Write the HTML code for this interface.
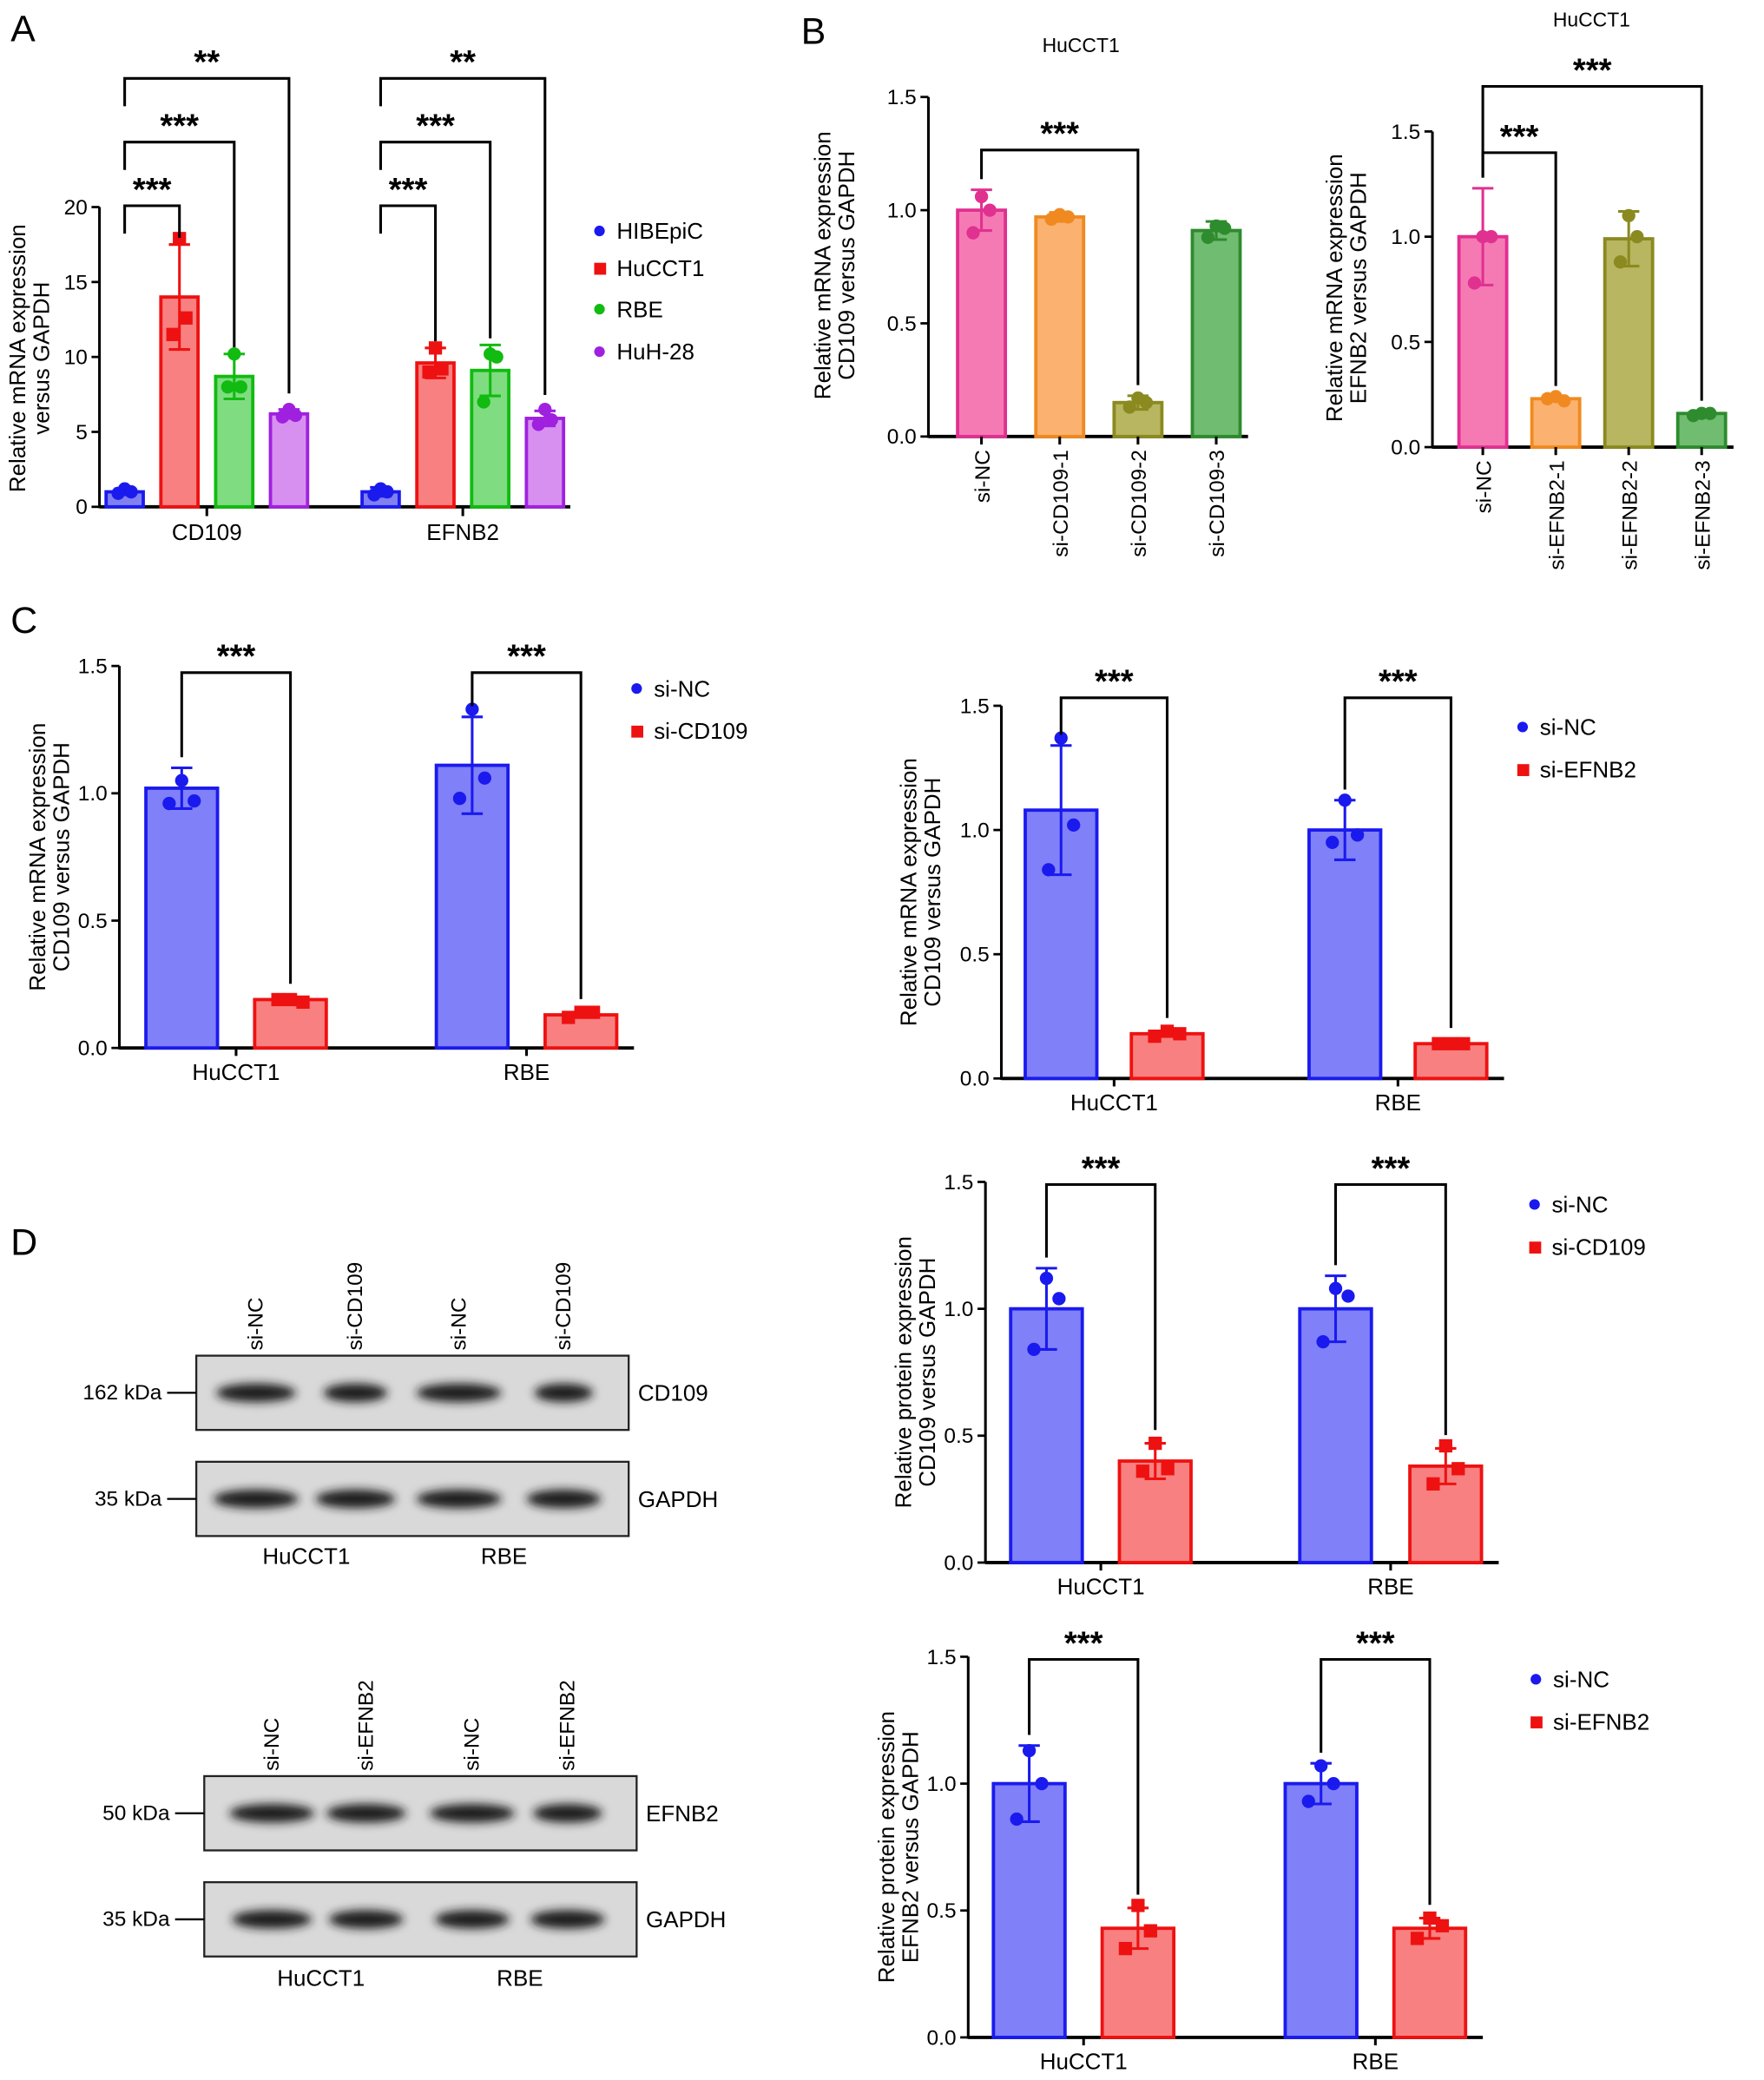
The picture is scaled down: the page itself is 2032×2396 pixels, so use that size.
<!DOCTYPE html>
<html><head><meta charset="utf-8"><style>
html,body{margin:0;padding:0;background:#fff}
svg{display:block;font-family:"Liberation Sans",Arial,sans-serif}
</style></head><body>
<svg id="fig" width="2032" height="2396" viewBox="0 0 1330 1568" xmlns="http://www.w3.org/2000/svg">
<defs><filter id="blur" x="-30%" y="-80%" width="160%" height="260%"><feGaussianBlur stdDeviation="3.5"/></filter></defs>
<g id="root"></g>
</svg>
<script>
// ---- Panel A data ----
const aCats = ["CD109","EFNB2"];
const aSeries = ["HIBEpiC","HuCCT1","RBE","HuH-28"];
const aMeans = [[1.0,14.0,8.7,6.2],[1.0,9.6,9.1,5.9]];
const aSD = [[0.2,3.5,1.5,0.3],[0.3,1.0,1.7,0.5]];
const aReps = [[[1.2,0.9,1.0],[17.9,11.5,12.6],[10.2,8.0,8.0],[6.5,6.0,6.1]],[[1.2,0.8,1.0],[10.6,9.0,9.2],[10.2,7.0,10.0],[6.5,5.5,5.8]]];
const aTicks = [0,5,10,15,20];
// ---- Panel B data ----
const bLeftCats = ["si-NC","si-CD109-1","si-CD109-2","si-CD109-3"];
const bLeftMeans = [1.0,0.97,0.15,0.91];
const bLeftSD = [0.09,0.02,0.03,0.04];
const bLeftReps = [[1.06,0.9,1.0],[0.98,0.96,0.97],[0.17,0.13,0.15],[0.93,0.88,0.92]];
const bRightCats = ["si-NC","si-EFNB2-1","si-EFNB2-2","si-EFNB2-3"];
const bRightMeans = [1.0,0.23,0.99,0.16];
const bRightSD = [0.23,0.01,0.13,0.01];
const bRightReps = [[1.0,0.78,1.0],[0.24,0.23,0.22],[1.1,0.88,1.0],[0.16,0.15,0.16]];
const bTicks = [0,0.5,1.0,1.5];
// ---- Panel C/D data ----
const groups = ["HuCCT1","RBE"];
const cLeftMeans = [[1.02,0.19],[1.11,0.13]];
const cLeftSD = [[0.08,0.01],[0.19,0.01]];
const cLeftReps = [[[1.05,0.96,0.97],[0.19,0.19,0.18]],[[1.33,0.98,1.06],[0.14,0.12,0.14]]];
const cRightMeans = [[1.08,0.18],[1.0,0.14]];
const cRightSD = [[0.26,0.01],[0.12,0.01]];
const cRightReps = [[[1.37,0.84,1.02],[0.19,0.17,0.18]],[[1.12,0.95,0.98],[0.14,0.14,0.14]]];
const dTopMeans = [[1.0,0.4],[1.0,0.38]];
const dTopSD = [[0.16,0.07],[0.13,0.07]];
const dTopReps = [[[1.12,0.84,1.04],[0.47,0.36,0.37]],[[1.08,0.87,1.05],[0.46,0.31,0.37]]];
const dBotMeans = [[1.0,0.43],[1.0,0.43]];
const dBotSD = [[0.15,0.08],[0.08,0.04]];
const dBotReps = [[[1.13,0.86,1.0],[0.52,0.35,0.42]],[[1.07,0.93,1.0],[0.47,0.39,0.44]]];
const twoTicks = [0,0.5,1.0,1.5];

const NS="http://www.w3.org/2000/svg";
const root=document.getElementById("root");
function el(tag,attrs,parent,text){const e=document.createElementNS(NS,tag);for(const k in attrs)e.setAttribute(k,attrs[k]);if(text!==undefined)e.textContent=text;(parent||root).appendChild(e);return e;}
function grp(name){const g=el("g",{},root);return g;}

function axis(g,x0,y0,yTop,x1,ymax,ticks,fmt){
  const ys=v=>y0-(v/ymax)*(y0-yTop);
  const ya=el("line",{x1:x0,y1:y0+1,x2:x0,y2:yTop,stroke:"#000","stroke-width":2},g);
  
  const xa=el("line",{x1:x0,y1:y0,x2:x1,y2:y0,stroke:"#000","stroke-width":2.5},g);
  
  ticks.forEach(t=>{const y=ys(t);
    el("line",{x1:x0-6,y1:y,x2:x0,y2:y,stroke:"#000","stroke-width":1.8},g);
    const tl=el("text",{x:x0-9,y:y+5.5,"font-size":16,"text-anchor":"end"},g,fmt(t));
    });
  return ys;
}
function bar(g,cx,w,mean,sd,reps,ys,fill,stroke,shape,name){
  const y0=ys(0),y=ys(mean);
  const r=el("rect",{x:cx-w/2,y:y,width:w,height:y0-y,fill:fill,stroke:stroke,"stroke-width":2.5},g);
  
  const ya=ys(mean+sd),yb=ys(Math.max(0,mean-sd));
  el("line",{x1:cx,y1:ya,x2:cx,y2:yb,stroke:stroke,"stroke-width":2},g);
  el("line",{x1:cx-8,y1:ya,x2:cx+8,y2:ya,stroke:stroke,"stroke-width":2},g);
  el("line",{x1:cx-8,y1:yb,x2:cx+8,y2:yb,stroke:stroke,"stroke-width":2},g);
  const off=[0,-7,7];
  reps.forEach((v,i)=>{const px=cx+off[i]*(w/40),py=ys(v);
    if(shape==="sq") el("rect",{x:px-5,y:py-5,width:10,height:10,fill:stroke},g);
    else el("circle",{cx:px,cy:py,r:5,fill:stroke},g);});
}
function bracket(g,xa,xb,ytop,ya,yb,label){
  el("polyline",{points:`${xa},${ya} ${xa},${ytop} ${xb},${ytop} ${xb},${yb}`,fill:"none",stroke:"#000","stroke-width":2},g);
  const t=el("text",{x:(xa+xb)/2,y:ytop-4,"font-size":25,"font-weight":"bold","text-anchor":"middle"},g,label);
  
}
function ytitle(g,x,cy,l1,l2){
  const t=el("text",{transform:`translate(${x},${cy}) rotate(-90)`,"font-size":17,"text-anchor":"middle"},g);
  
  el("tspan",{x:0,dy:0},t,l1);el("tspan",{x:0,dy:18},t,l2);
}
function legendEntry(g,x,y,label,col,shape){
  const e=el("g",{},g);
  if(shape==="sq") el("rect",{x:x-4,y:y-4,width:9,height:9,fill:col},e); else el("circle",{cx:x,cy:y,r:4,fill:col},e);
  el("text",{x:x+13,y:y+6,"font-size":17},e,label);
}
function letter(x,y,L){const t=el("text",{x:x,y:y,"font-size":28},root,L);}
const f1=t=>t.toFixed(1);

// ---- Panel A ----
letter(8,31,"A");
{const g=grp("panel-a-chart");
 const ys=axis(g,75,382,156,430,20,aTicks,t=>String(t));
 const fills=["#8080f0","#f88080","#80dc80","#d890f0"],strokes=["#1a1aee","#ee1111","#11bb11","#a020e0"],shapes=["c","sq","c","c"];
 const starts=[94,287],step=41.3;
 aCats.forEach((c,ci)=>{
  aSeries.forEach((s,si)=>bar(g,starts[ci]+si*step,28,aMeans[ci][si],aSD[ci][si],aReps[ci][si],ys,fills[si],strokes[si],shapes[si],'bar-'+c.toLowerCase()+'-'+s.toLowerCase()));
  const x0=starts[ci];
  bracket(g,x0,x0+step,155,176,ys(aMeans[ci][1]+aSD[ci][1])-5,"***");
  bracket(g,x0,x0+2*step,107,128,ys(aMeans[ci][2]+aSD[ci][2])-5,"***");
  bracket(g,x0,x0+3*step,59,80,ys(aMeans[ci][3]+aSD[ci][3])-12,"**");
  el("line",{x1:x0+1.5*step,y1:382,x2:x0+1.5*step,y2:389,stroke:"#000","stroke-width":2},g);
  const l=el("text",{x:x0+1.5*step,y:407,"font-size":17,"text-anchor":"middle"},g,c);
 });
 ytitle(g,19,270,"Relative mRNA expression","versus GAPDH");
 aSeries.forEach((s,si)=>legendEntry(g,452,[174,202,233,265][si],s,strokes[si],shapes[si]));
}
// ---- Panel B ----
letter(604,33,"B");
function panelB(name,x0,y0,yTop,title,tx,ty,cats,means,sd,reps,xs,tl,brs){
 const g=grp(name);
 const ys=axis(g,x0,y0,yTop,xs[3]+24,1.5,bTicks,f1);
 const fills=["#f57ab4","#fbb270","#b8b660","#70bc70"],strokes=["#e03090","#f08a20","#8a8a20","#2e8b2e"];
 cats.forEach((c,i)=>{bar(g,xs[i],36,means[i],sd[i],reps[i],ys,fills[i],strokes[i],"c",'bar-'+c.toLowerCase());
  el("line",{x1:xs[i],y1:y0,x2:xs[i],y2:y0+6,stroke:"#000","stroke-width":2},g);
  const l=el("text",{transform:`translate(${xs[i]+6},${y0+10}) rotate(-90)`,"font-size":16,"text-anchor":"end"},g,c);
  });
 const t=el("text",{x:tx,y:ty,"font-size":15,"text-anchor":"middle"},g,title);
 brs.forEach(b=>bracket(g,xs[b[0]],xs[b[1]],b[2],ys(means[b[0]]+sd[b[0]])-8,ys(means[b[1]]+sd[b[1]])-8,"***"));
 ytitle(g,tl[0],tl[1],"Relative mRNA expression",tl[2]);
}
panelB("panel-b-left-chart",700,329,73,"HuCCT1",815,39,bLeftCats,bLeftMeans,bLeftSD,bLeftReps,[740,799,858,917],[626,200,"CD109 versus GAPDH"],[[0,2,113]]);
panelB("panel-b-right-chart",1080,337,99,"HuCCT1",1200,20,bRightCats,bRightMeans,bRightSD,bRightReps,[1118,1173,1228,1283],[1012,217,"EFNB2 versus GAPDH"],[[0,1,115],[0,3,65]]);

// ---- Two-group charts ----
function twoChart(name,x0,y0,yTop,xs,means,sd,reps,brY,legX,legY,leg2,t2,tx){
 const g=grp(name);
 const ys=axis(g,x0,y0,yTop,xs[3]+40,1.5,twoTicks,f1);
 groups.forEach((gr,gi)=>{
  bar(g,xs[gi*2],54,means[gi][0],sd[gi][0],reps[gi][0],ys,"#8080f8","#1a1aee","c",'bar-'+gr.toLowerCase()+'-si-nc');
  bar(g,xs[gi*2+1],54,means[gi][1],sd[gi][1],reps[gi][1],ys,"#f88080","#ee1111","sq",'bar-'+gr.toLowerCase()+'-'+leg2.toLowerCase());
  bracket(g,xs[gi*2],xs[gi*2+1],brY,ys(means[gi][0]+sd[gi][0])-8,ys(means[gi][1]+sd[gi][1])-10,"***");
  const cx=(xs[gi*2]+xs[gi*2+1])/2;
  el("line",{x1:cx,y1:y0,x2:cx,y2:y0+6,stroke:"#000","stroke-width":2},g);
  const l=el("text",{x:cx,y:y0+24,"font-size":17,"text-anchor":"middle"},g,gr);
 });
 legendEntry(g,legX,legY,"si-NC","#1a1aee","c");
 legendEntry(g,legX,legY+32,leg2,"#ee1111","sq");
 ytitle(g,tx,(y0+yTop)/2,t2[0],t2[1]);
}
letter(8,477,"C");
twoChart("panel-c-left-chart",90,790,502,[137,219,356,438],cLeftMeans,cLeftSD,cLeftReps,507,480,519,"si-CD109",["Relative mRNA expression","CD109 versus GAPDH"],34);
twoChart("panel-c-right-chart",755,813,532,[800,880,1014,1094],cRightMeans,cRightSD,cRightReps,526,1148,548,"si-EFNB2",["Relative mRNA expression","CD109 versus GAPDH"],691);
letter(8,946,"D");
twoChart("panel-d-cd109-protein-chart",743,1178,891,[789,871,1007,1090],dTopMeans,dTopSD,dTopReps,893,1157,908,"si-CD109",["Relative protein expression","CD109 versus GAPDH"],687);
twoChart("panel-d-efnb2-protein-chart",730,1536,1249,[776,858,996,1078],dBotMeans,dBotSD,dBotReps,1251,1158,1266,"si-EFNB2",["Relative protein expression","EFNB2 versus GAPDH"],674);

// ---- Western blots ----
function blot(name,x,y,w,h,bands,widths,kda,label){
 const g=grp(name);
 el("rect",{x:x,y:y,width:w,height:h,fill:"#d9d9d9",stroke:"#222","stroke-width":1.5},g);
 bands.forEach((bx,i)=>{const b=el("ellipse",{cx:bx,cy:y+h/2,rx:widths[i],ry:7,fill:"#1a1a1a",filter:"url(#blur)"},g);});
 el("line",{x1:x-22,y1:y+h/2,x2:x,y2:y+h/2,stroke:"#000","stroke-width":1.5},g);
 el("text",{x:x-26,y:y+h/2+5,"font-size":16,"text-anchor":"end"},g,kda);
 el("text",{x:x+w+7,y:y+h/2+6,"font-size":17},g,label);
}
function laneLabels(xs,y,labels,name){const g=grp(name);xs.forEach((x,i)=>el("text",{transform:`translate(${x+5},${y}) rotate(-90)`,"font-size":16},g,labels[i]));}
laneLabels([193,268,346,425],1018,["si-NC","si-CD109","si-NC","si-CD109"],"blot1-lane-labels");
blot("blot-cd109",148,1022,326,56,[193,268,346,425],[30,24,32,22],"162 kDa","CD109");
blot("blot-gapdh-1",148,1102,326,56,[193,268,346,425],[32,30,32,28],"35 kDa","GAPDH");
{const g=grp("blot1-group-labels");el("text",{x:231,y:1179,"font-size":17,"text-anchor":"middle"},g,"HuCCT1");el("text",{x:380,y:1179,"font-size":17,"text-anchor":"middle"},g,"RBE");}
laneLabels([205,276,356,428],1335,["si-NC","si-EFNB2","si-NC","si-EFNB2"],"blot2-lane-labels");
blot("blot-efnb2",154,1339,326,56,[205,276,356,428],[32,30,32,26],"50 kDa","EFNB2");
blot("blot-gapdh-2",154,1419,326,56,[205,276,356,428],[30,28,28,28],"35 kDa","GAPDH");
{const g=grp("blot2-group-labels");el("text",{x:242,y:1497,"font-size":17,"text-anchor":"middle"},g,"HuCCT1");el("text",{x:392,y:1497,"font-size":17,"text-anchor":"middle"},g,"RBE");}
</script>
</body></html>
